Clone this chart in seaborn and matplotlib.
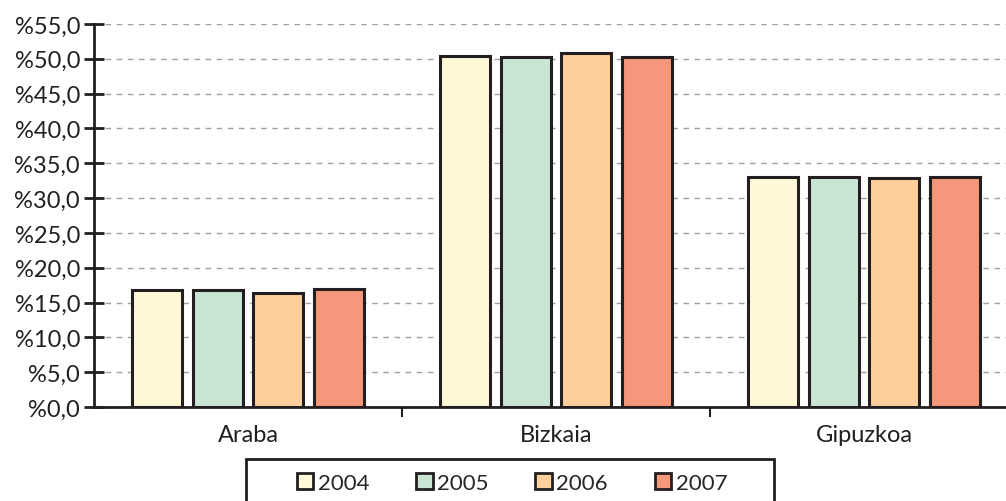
import pandas as pd
import seaborn as sns
import matplotlib.pyplot as plt
from matplotlib.patches import Patch, Rectangle

regiones = ['Araba', 'Bizkaia', 'Gipuzkoa']
anios = ['2004', '2005', '2006', '2007']
v2004 = [16.8, 50.4, 33.0]
v2005 = [16.8, 50.3, 33.0]
v2006 = [16.4, 50.9, 32.9]
v2007 = [17.0, 50.2, 33.0]
colores = ['#FFF9D6', '#C9E5D3', '#FFCF9C', '#F4977A']

datos = pd.DataFrame({
    'Región': regiones * 4,
    'Año': [a for a in anios for _ in regiones],
    'Valor': v2004 + v2005 + v2006 + v2007,
})

sns.set_style('white')
plt.rcParams['font.family'] = ['Lato', 'DejaVu Sans']

fig = plt.figure(figsize=(10.06, 5.02), dpi=100)
ax = fig.add_axes([94 / 1006, 1 - 408 / 502, 1 - 94 / 1006, 383 / 502])

sns.barplot(data=datos, x='Región', y='Valor', hue='Año', palette=colores,
            saturation=1, width=0.785, gap=0.17, edgecolor='#231F20', linewidth=2.2,
            legend=False, ax=ax, zorder=3)

ax.set_ylim(0, 55)
ax.set_xlim(-0.5, 2.5 - 12 / 308)
ax.set_yticks(range(0, 56, 5))
ax.set_yticklabels(['%' + f'{v:.1f}'.replace('.', ',') for v in range(0, 56, 5)], fontsize=17, color='#231F20')
ax.set_xticks(range(3))
ax.set_xticklabels(regiones, fontsize=17, color='#231F20')
ax.set_xticks([0.5, 1.5], minor=True)
ax.tick_params(axis='x', which='major', bottom=True, length=0, pad=12)
ax.tick_params(axis='x', which='minor', bottom=True, length=7, width=1.5, color='#231F20', direction='out')
ax.tick_params(axis='y', left=True, length=14, width=2, color='#231F20', direction='inout', pad=3)
ax.grid(axis='y', linestyle=(0, (4, 4)), color='#A0A0A0', linewidth=1, zorder=0)
ax.set_axisbelow(True)
ax.set_xlabel('')
ax.set_ylabel('')

for lado in ['top', 'right']:
    ax.spines[lado].set_visible(False)
for lado in ['left', 'bottom']:
    ax.spines[lado].set_color('#231F20')
    ax.spines[lado].set_linewidth(2)

manijas = [Patch(facecolor=c, edgecolor='#231F20', linewidth=2) for c in colores]
leg = fig.legend(manijas, anios, loc='center', bbox_to_anchor=(512 / 1006, 1 - 484 / 502),
                 ncol=4, fontsize=16, frameon=False, handlelength=0.75,
                 handleheight=0.75, handletextpad=0.2, columnspacing=2.1, borderpad=0,
                 borderaxespad=0)

# caja de la leyenda, como en el original
fig.patches.append(Rectangle((246 / 1006, -0.05), 528 / 1006, 1 - 460 / 502 + 0.05,
                             transform=fig.transFigure, facecolor='none',
                             edgecolor='#231F20', linewidth=2))

fig.savefig('out.png', dpi=100)
